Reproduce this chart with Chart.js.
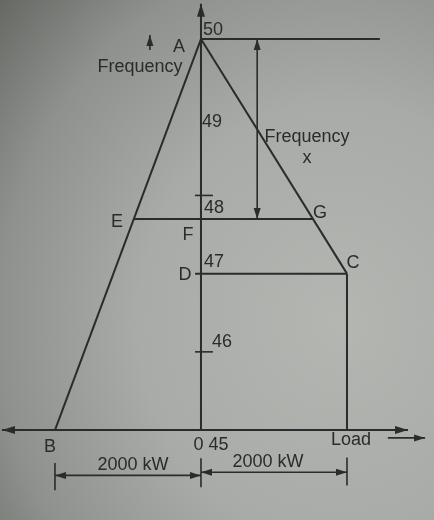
<!DOCTYPE html>
<html>
<head>
  <title>Load sharing - frequency vs load</title>
  <script src="https://cdn.jsdelivr.net/npm/chart.js"></script>
  <style>
    body { margin: 0; }
    #wrap {
      width: 434px; height: 520px; position: relative;
      background: radial-gradient(ellipse 115% 105% at 78% 62%, #b4b6b2 0%, #a8aba7 40%, #8e918d 68%, #6a6c68 88%, #555753 100%);
    }
  </style>
</head>
<body>
  <div id="wrap"><canvas id="diagram"></canvas></div>

  <script>
    // values: load in kW (0 = frequency axis), frequency in Hz
    const freqTicks = [50, 49, 48, 47, 46];
    const tickMarks = [48, 46];               // small dashes drawn across the frequency axis
    const pointNames = ['A', 'B', 'C', 'D', 'E', 'F', 'G'];
    const pointLoad = [0, -2000, 2000, 0, -920, 0, 1533];
    const pointFreq = [50, 45, 47, 47, 47.7, 47.7, 47.7];
    const shareLoad = [2000, 2000];           // kW carried by each machine
    const freqDrop = [50, 47.7];              // span marked "Frequency x"

    const ink = '#2a2c2b';
    const pt = {};
    pointNames.forEach((n, i) => pt[n] = { x: pointLoad[i], y: pointFreq[i] });

    // text labels: [text, load, freq]
    const labels = [
      [String(freqTicks[0]), 164, 50.115],
      ['A', -301, 49.90],
      ['Frequency', -836, 49.64],
      [String(freqTicks[1]), 150, 48.94],
      ['Frequency', 1452, 48.75],
      ['x', 1452, 48.48],
      [String(freqTicks[2]), 178, 47.84],
      ['G', 1630, 47.77],
      ['E', -1151, 47.66],
      ['F', -178, 47.49],
      [String(freqTicks[3]), 178, 47.15],
      ['D', -219, 46.98],
      ['C', 2082, 47.14],
      [String(freqTicks[4]), 288, 46.13],
      ['B', -2069, 44.78],
      ['0 45', 137, 44.81],
      ['Load', 2055, 44.87],
      [shareLoad[0] + ' kW', -932, 44.55],
      [shareLoad[1] + ' kW', 918, 44.59]
    ];

    function seg(a, b, arrows, width) {
      return {
        data: [a, b], showLine: true, borderColor: ink, borderWidth: width || 2,
        pointRadius: 0, clip: false, arrows: arrows || ''
      };
    }

    const dimY = 44.42;
    const datasets = [
      seg({ x: 0, y: 45 }, { x: 0, y: 50.45 }, 'end'),                    // frequency axis
      seg({ x: -2726, y: 45 }, { x: 2836, y: 45 }, 'both'),                // load axis
      seg(pt.A, pt.B), seg(pt.A, pt.C),
      seg(pt.C, { x: pt.C.x, y: 45 }),
      seg({ x: -80, y: pt.D.y }, pt.C),
      seg(pt.E, pt.G),
      seg(pt.A, { x: 2450, y: 50 }),
      seg({ x: 770, y: freqDrop[0] }, { x: 770, y: freqDrop[1] }, 'both', 1.6),
      seg({ x: -700, y: 49.86 }, { x: -700, y: 50.05 }, 'end', 1.6),      // small arrow by "Frequency"
      seg({ x: 2560, y: 44.9 }, { x: 3070, y: 44.9 }, 'end', 1.6),        // arrow after "Load"
      seg({ x: -shareLoad[0], y: dimY }, { x: 0, y: dimY }, 'both', 1.6),
      seg({ x: 0, y: dimY + 0.04 }, { x: shareLoad[1], y: dimY + 0.04 }, 'both', 1.6),
      seg({ x: -shareLoad[0], y: 44.58 }, { x: -shareLoad[0], y: 44.23 }, '', 1.6),
      seg({ x: 0, y: 44.64 }, { x: 0, y: 44.27 }, '', 1.6),
      seg({ x: shareLoad[1], y: 44.65 }, { x: shareLoad[1], y: 44.29 }, '', 1.6)
    ];
    tickMarks.forEach(f => datasets.push(seg({ x: -82, y: f }, { x: 164, y: f }, '', 1.6)));

    // arrow heads and text labels
    const extras = {
      id: 'extras',
      afterDatasetsDraw(chart) {
        const ctx = chart.ctx, xs = chart.scales.x, ys = chart.scales.y;
        ctx.save();
        ctx.fillStyle = ink;
        chart.data.datasets.forEach(ds => {
          if (!ds.arrows) return;
          const p = ds.data.map(d => ({ x: xs.getPixelForValue(d.x), y: ys.getPixelForValue(d.y) }));
          const big = ds.borderWidth >= 2;
          const head = (tip, from) => {
            const a = Math.atan2(tip.y - from.y, tip.x - from.x);
            const len = big ? 13 : 11, w = big ? 4 : 3.5;
            ctx.beginPath();
            ctx.moveTo(tip.x, tip.y);
            ctx.lineTo(tip.x - len * Math.cos(a) + w * Math.sin(a), tip.y - len * Math.sin(a) - w * Math.cos(a));
            ctx.lineTo(tip.x - len * Math.cos(a) - w * Math.sin(a), tip.y - len * Math.sin(a) + w * Math.cos(a));
            ctx.closePath();
            ctx.fill();
          };
          if (ds.arrows === 'end' || ds.arrows === 'both') head(p[1], p[0]);
          if (ds.arrows === 'both') head(p[0], p[1]);
        });
        ctx.font = '18px "Liberation Sans", Arial, sans-serif';
        ctx.textAlign = 'center';
        ctx.textBaseline = 'middle';
        labels.forEach(([t, x, y]) => ctx.fillText(t, xs.getPixelForValue(x), ys.getPixelForValue(y)));
        ctx.restore();
      }
    };

    new Chart(document.getElementById('diagram'), {
      type: 'scatter',
      data: { datasets: datasets },
      options: {
        animation: false,
        responsive: true,
        maintainAspectRatio: false,
        layout: { padding: 0 },
        plugins: { legend: { display: false }, tooltip: { enabled: false } },
        scales: {
          x: { type: 'linear', min: -2753, max: 3192, display: false },
          y: { type: 'linear', min: 43.85, max: 50.499, display: false }
        }
      },
      plugins: [extras]
    });
  </script>
</body>
</html>
